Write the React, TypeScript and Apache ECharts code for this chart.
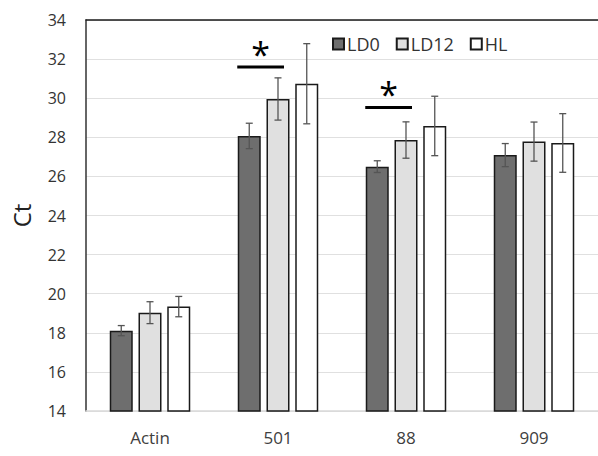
import React, { useEffect, useRef } from "react";
import * as echarts from "echarts";

const categories = ["Actin", "501", "88", "909"];
const seriesNames = ["LD0", "LD12", "HL"];
const ld0Values = [18.11, 28.07, 26.5, 27.09];
const ld12Values = [19.03, 29.96, 27.86, 27.78];
const hlValues = [19.34, 30.74, 28.58, 27.71];
const ld0Errors = [0.26, 0.65, 0.3, 0.59];
const ld12Errors = [0.56, 1.08, 0.93, 1.0];
const hlErrors = [0.52, 2.05, 1.52, 1.5];
const yTicks = { min: 14, max: 34, interval: 2 };
// significance: category index, y level of the bar (data units)
const sigCategories = [1, 2];
const sigLevels = [31.6, 29.53];

const FONT = "'Open Sans', 'Noto Sans', sans-serif";
const BAR_W = 23;
const GAP = 5.75;
const colors = ["#6e6e6e", "#e0e0e0", "#ffffff"];

export default function App() {
  const ref = useRef<HTMLDivElement>(null);
  useEffect(() => {
    if (!ref.current) return;
    const chart = echarts.init(ref.current, undefined, { renderer: "svg" });
    const values = [ld0Values, ld12Values, hlValues];
    const errors = [ld0Errors, ld12Errors, hlErrors];

    const barSeries = seriesNames.map((name, i) => ({
      name,
      type: "bar",
      data: values[i],
      barWidth: BAR_W,
      barGap: "25%",
      itemStyle: { color: colors[i], borderColor: "#1a1a1a", borderWidth: 1.5 },
      emphasis: { disabled: true },
    }));

    const errSeries = seriesNames.map((name, i) => ({
      type: "custom",
      name: name + "-err",
      data: values[i].map((v, k) => [k, v - errors[i][k], v + errors[i][k]]),
      silent: true,
      z: 5,
      renderItem: (params: any, api: any) => {
        const c = api.value(0);
        const lo = api.coord([c, api.value(1)]);
        const hi = api.coord([c, api.value(2)]);
        const x = lo[0] + (i - 1) * (BAR_W + GAP);
        const cap = 3.5;
        const style = { stroke: "#555555", lineWidth: 1.3 };
        return {
          type: "group",
          children: [
            { type: "line", shape: { x1: x, y1: hi[1], x2: x, y2: lo[1] }, style },
            { type: "line", shape: { x1: x - cap, y1: hi[1], x2: x + cap, y2: hi[1] }, style },
            { type: "line", shape: { x1: x - cap, y1: lo[1], x2: x + cap, y2: lo[1] }, style },
          ],
        };
      },
    }));

    const sigSeries = {
      type: "custom",
      name: "sig",
      data: sigCategories.map((c, k) => [c, sigLevels[k]]),
      silent: true,
      z: 6,
      renderItem: (params: any, api: any) => {
        const p = api.coord([api.value(0), api.value(1)]);
        const x0 = p[0] - (BAR_W + GAP) - BAR_W / 2 - 0.5;
        const x1 = p[0] + 6;
        return {
          type: "group",
          children: [
            { type: "rect", shape: { x: x0, y: p[1] - 1.5, width: x1 - x0, height: 3.2 }, style: { fill: "#000" } },
            {
              type: "text",
              style: {
                text: "*",
                x: (x0 + x1) / 2,
                y: p[1] + 4,
                align: "center",
                verticalAlign: "bottom",
                fontSize: 34,
                fontFamily: FONT,
                fill: "#000",
              },
            },
          ],
        };
      },
    };

    chart.setOption({
      animation: false,
      backgroundColor: "#ffffff",
      grid: { left: 86, top: 20, width: 520, height: 391 },
      legend: {
        data: seriesNames,
        top: 30,
        left: 327,
        icon: "rect",
        itemWidth: 11,
        itemHeight: 11,
        itemGap: 16,
        textStyle: { fontFamily: FONT, fontSize: 18, color: "#333", padding: [0, 0, 0, -2] },
        selectedMode: false,
      },
      xAxis: [
        {
          type: "category",
          data: categories,
          axisLine: { lineStyle: { color: "#d9d9d9", width: 1.5 } },
          axisTick: { show: false },
          axisLabel: { fontFamily: FONT, fontSize: 17, color: "#404040", margin: 18 },
        },
        {
          type: "category",
          data: categories,
          position: "top",
          axisLine: { lineStyle: { color: "#1a1a1a", width: 1.5 } },
          axisTick: { show: false },
          axisLabel: { show: false },
        },
      ],
      yAxis: {
        type: "value",
        min: yTicks.min,
        max: yTicks.max,
        interval: yTicks.interval,
        name: "Ct",
        nameLocation: "middle",
        nameGap: 53,
        nameTextStyle: { fontFamily: FONT, fontSize: 24, color: "#222" },
        axisLine: { show: true, lineStyle: { color: "#333", width: 1.5 } },
        axisTick: { show: false },
        axisLabel: { fontFamily: FONT, fontSize: 16, color: "#333", margin: 20 },
        splitLine: { lineStyle: { color: "#e0e0e0", width: 1 } },
      },
      series: [...barSeries, ...errSeries, sigSeries],
    });
    return () => chart.dispose();
  }, []);
  return (
    <div
      ref={ref}
      style={{ position: "absolute", left: 0, top: 0, width: 598, height: 456, overflow: "hidden" }}
    />
  );
}
